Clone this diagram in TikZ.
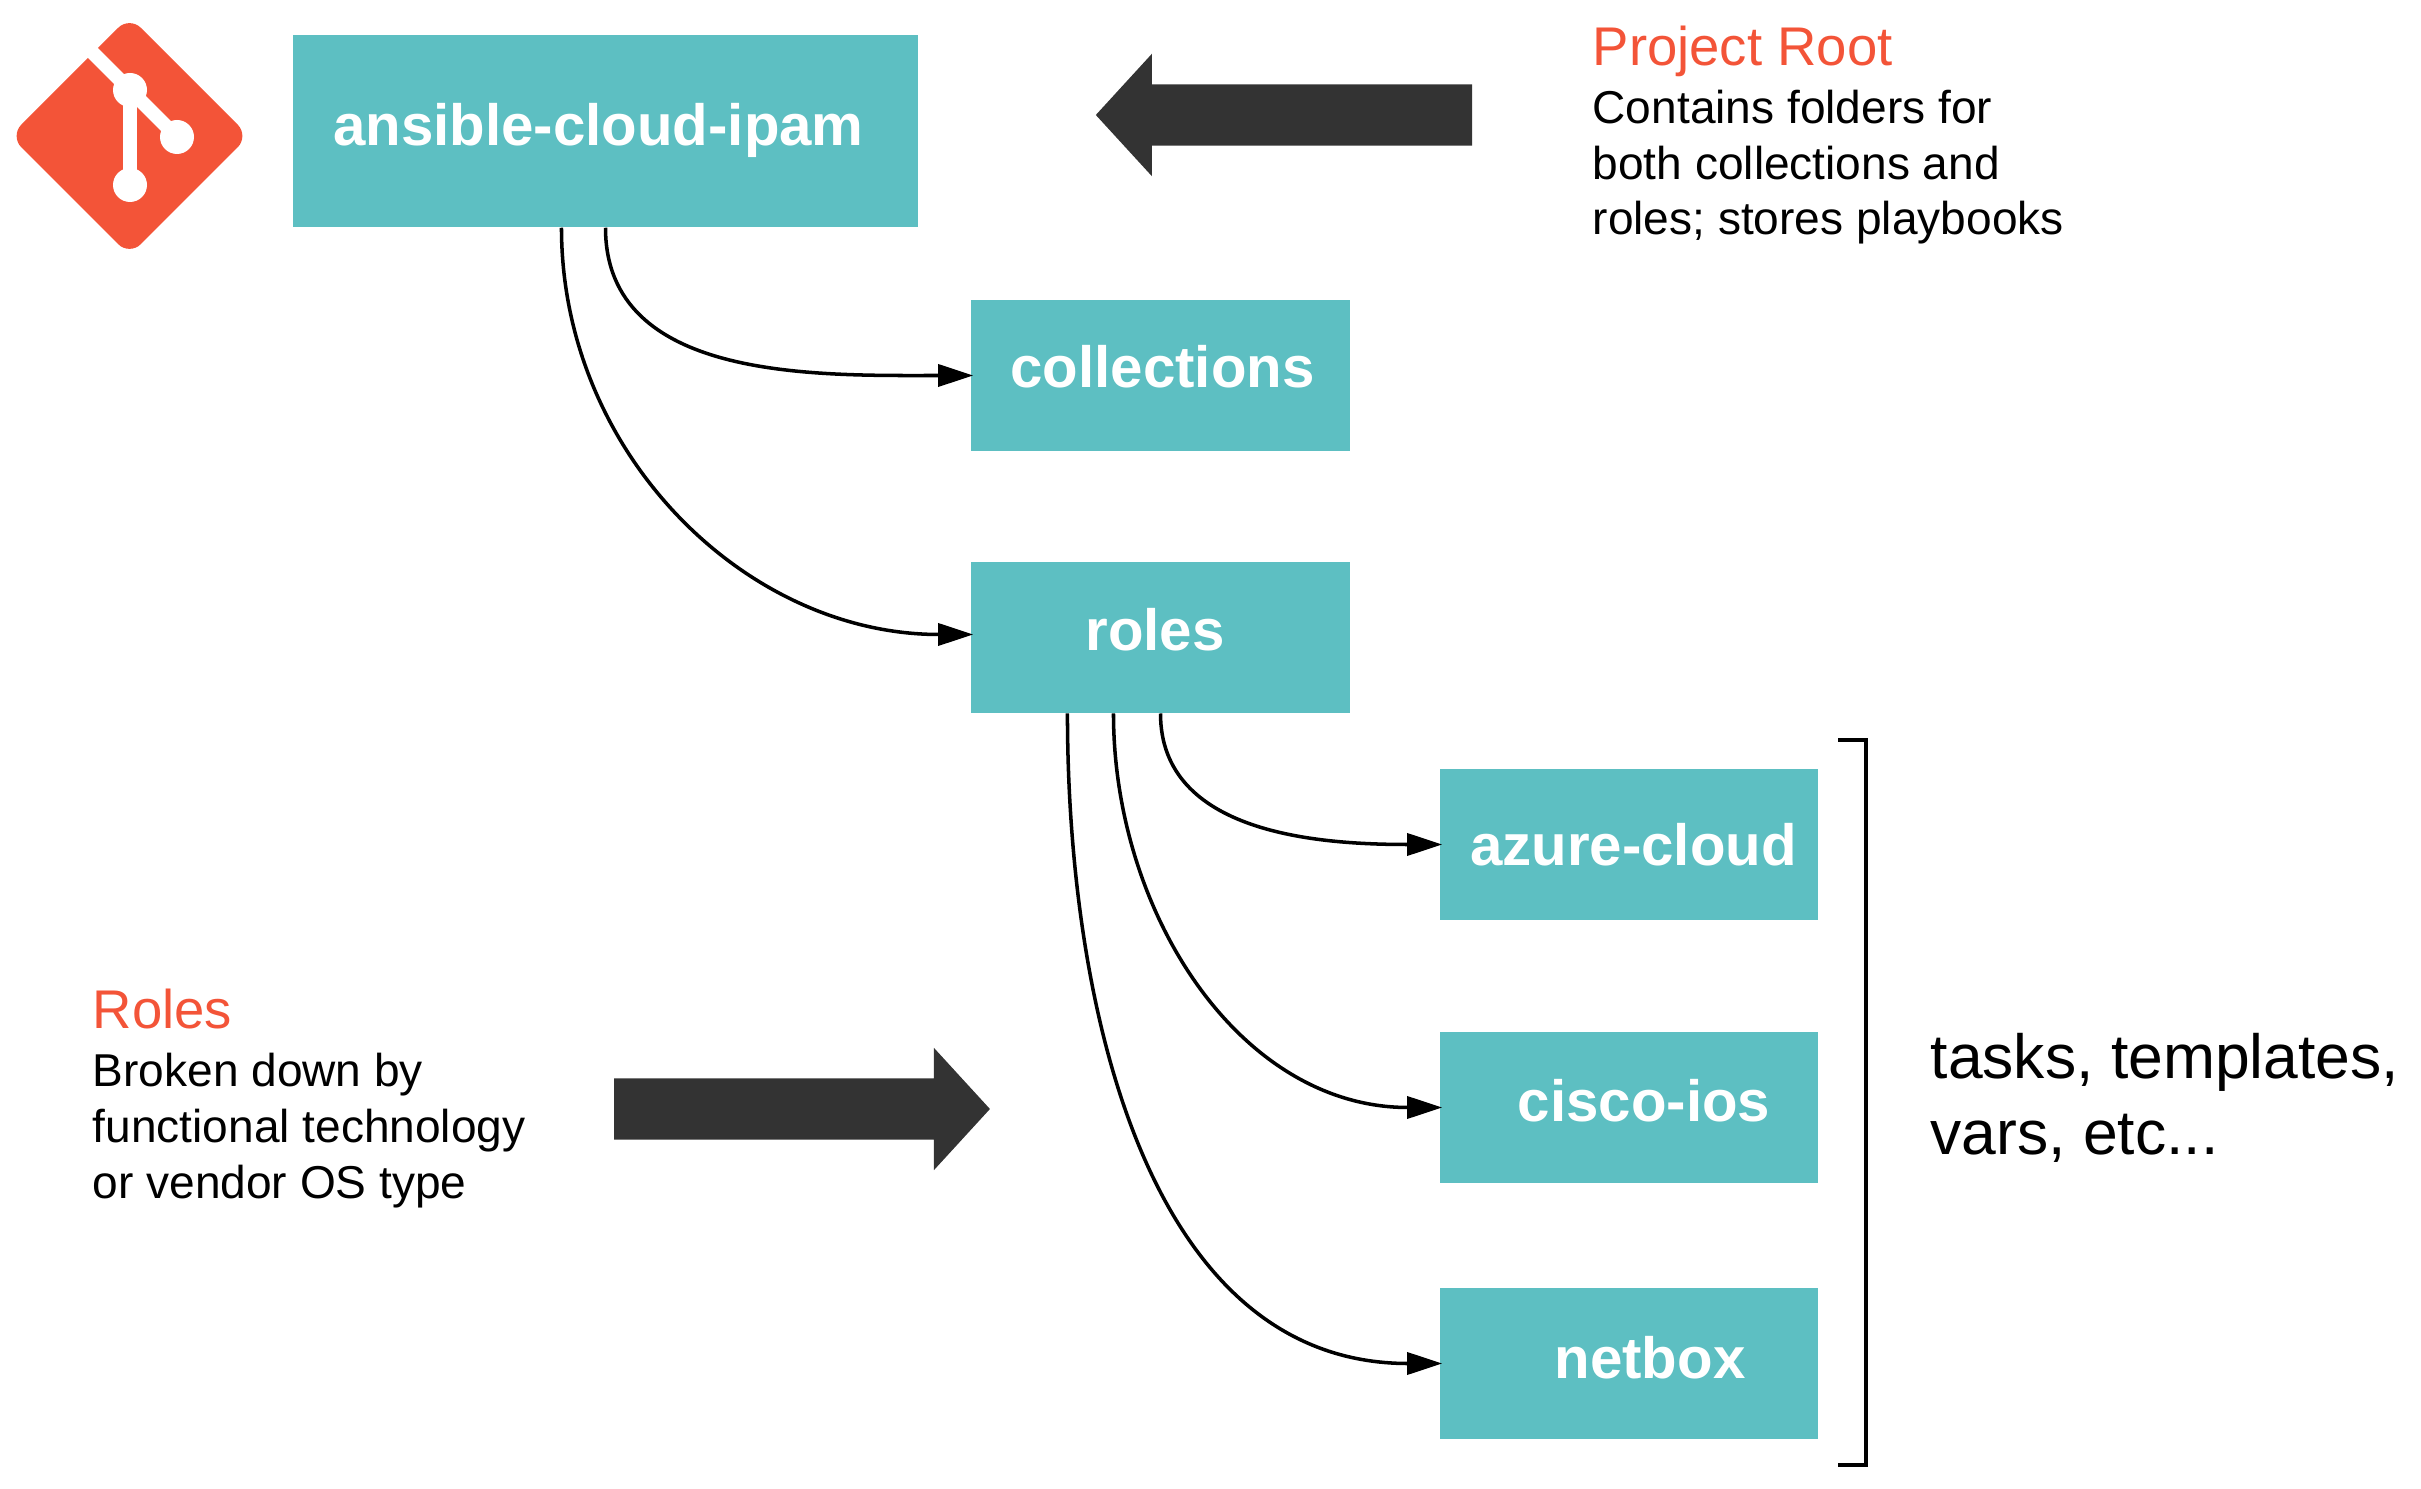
\documentclass[tikz,border=0pt]{standalone}
\usepackage{xcolor}
\usepackage{fontspec}
\setmainfont{Liberation Sans}
\usepackage{tikz}
\usetikzlibrary{shapes.arrows, arrows.meta, positioning, calc}
\definecolor{myteal}{RGB}{93,191,194}
\definecolor{myorange}{RGB}{243,84,56}
\definecolor{mydark}{RGB}{51,51,51}
\tikzset{
  block/.style={rectangle, fill=myteal, inner sep=0pt, minimum height=1.505cm},
  blocktext/.style={anchor=base, inner sep=0pt, text=white,
    font=\fontsize{16.55}{19}\selectfont\bfseries},
  headtext/.style={anchor=base west, inner sep=0pt, text=myorange,
    font=\fontsize{15.5}{18}\selectfont},
  bodytext/.style={anchor=base west, inner sep=0pt, align=left,
    font=\fontsize{13.1}{15.8}\selectfont},
  bigarrow/.style={single arrow, fill=mydark, inner xsep=0pt, inner ysep=0.3cm, minimum width=1.21cm,
    single arrow head extend=0.305cm, single arrow tip angle=95, single arrow head indent=0pt},
  arrow/.style={-{Triangle[length=0.35cm, width=0.22cm]}, line width=1pt, black, shorten >=-0.03cm}
}
\begin{document}
\begin{tikzpicture}[x=0.01cm, y=-0.01cm]
  \useasboundingbox (0, 0) rectangle (2421, 1489);

  \fill[myorange, rounded corners=0.16cm] (129.5, 16.5) -- (249, 136) -- (129.5, 255.5) -- (10, 136) -- cycle;
  \draw[white, line width=4pt] (90, 50) -- (177, 137);
  \draw[white, line width=4pt] (130, 90) -- (130, 185);
  \fill[white] (130, 90) circle (17) (177, 137) circle (17) (130, 185) circle (17);

  \node[block, minimum width=6.25cm, minimum height=1.92cm] (ansible) at (605.5, 131) {};
  \node[block, minimum width=3.79cm] (collections) at (1160.5, 375.5) {};
  \node[block, minimum width=3.79cm] (roles) at (1160.5, 637.5) {};
  \node[block, minimum width=3.78cm] (azure) at (1629, 844.5) {};
  \node[block, minimum width=3.78cm] (cisco) at (1629, 1107.5) {};
  \node[block, minimum width=3.78cm] (netbox) at (1629, 1363.5) {};

  \node[blocktext] (ansibletext) at (598.5, 146) {ansible-cloud-ipam};
  \node[blocktext] (collectionstext) at (1162.5, 388) {collections};
  \node[blocktext] (rolestext) at (1155, 651) {roles};
  \node[blocktext] (azuretext) at (1633.5, 866) {azure-cloud};
  \node[blocktext] (ciscotext) at (1644, 1121) {cisco-ios};
  \node[blocktext] (netboxtext) at (1650, 1378) {netbox};

  \draw[arrow] ([xshift=-0.44cm]ansible.south) to[out=-90, in=180] ([yshift=0.03cm]roles.west);
  \draw[arrow] (ansible.south) to[out=-90, in=180] (collections.west);
  \draw[arrow] (roles.south) to[out=-90, in=180] (azure.west);
  \draw[arrow] ([xshift=-0.47cm]roles.south) to[out=-90, in=180] (cisco.west);
  \draw[arrow] ([xshift=-0.93cm]roles.south) to[out=-90, in=180] (netbox.west);

  \node[bigarrow, minimum height=3.76cm, shape border rotate=180] (rootarrow) at (1298, 115) {};
  \node[bigarrow, minimum height=3.755cm] (rolesarrow) at (788, 1109) {};

  \node[headtext] (roothead) at (1592, 66) {Project Root};
  \node[bodytext] (rootbody) at (1592, 235) {Contains folders for\\both collections and\\roles; stores playbooks};
  \node[headtext] (roleshead) at (92, 1028) {Roles};
  \node[bodytext] (rolesbody) at (92, 1198) {Broken down by\\functional technology\\or vendor OS type};

  \coordinate (brackettop) at (1838, 740);
  \coordinate (bracketbot) at (1838, 1465);
  \draw[line width=1.2pt] (brackettop) -- ++(28, 0) |- (bracketbot);
  \node[bodytext, font=\fontsize{17.75}{21.6}\selectfont] (tasks) at (1930, 1154) {tasks, templates,\\vars, etc...};
\end{tikzpicture}
\end{document}
